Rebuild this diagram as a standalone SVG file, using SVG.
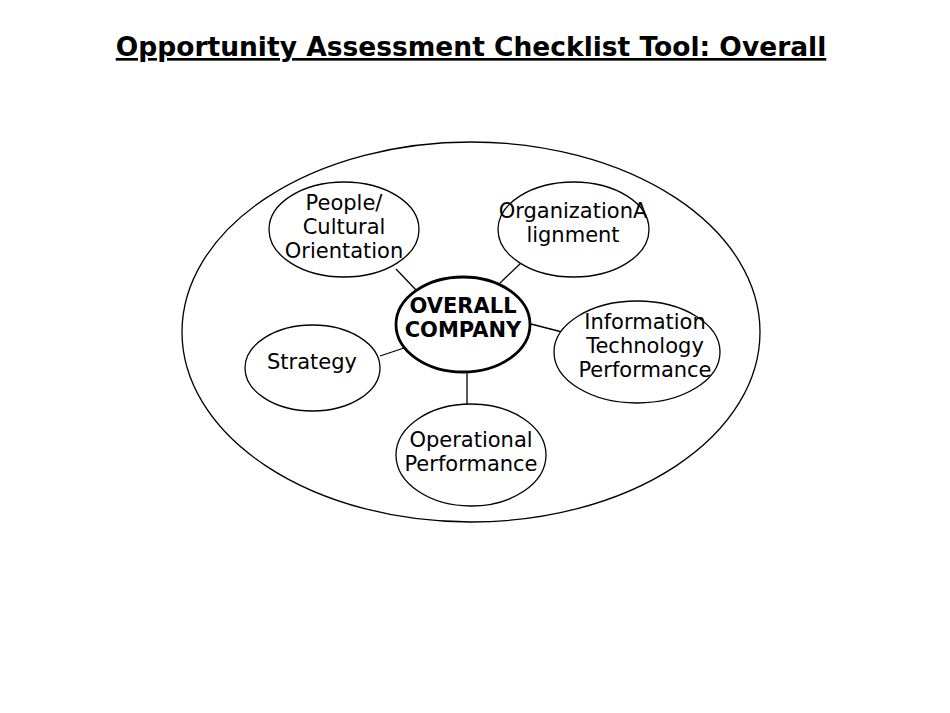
<svg xmlns="http://www.w3.org/2000/svg" width="950" height="713" viewBox="0 0 950 713">
<style>
.n{fill:#fff;stroke:#000;stroke-width:1.3}
.t{font-family:"DejaVu Sans",sans-serif;font-size:21px;text-anchor:middle;fill:#000}
.b{font-weight:bold}
.c line{stroke:#000;stroke-width:1.3}
</style>
<rect width="950" height="713" fill="#fff"/>
<text x="471" y="56" font-family="DejaVu Sans,sans-serif" font-size="26.5" font-weight="bold" text-anchor="middle" text-decoration="underline">Opportunity Assessment Checklist Tool: Overall</text>
<g id="outer"><ellipse class="n" cx="471" cy="332" rx="289" ry="190"/></g>
<g class="c" id="connectors">
<line x1="396" y1="269" x2="417" y2="291"/>
<line x1="522" y1="262" x2="500" y2="283"/>
<line x1="531" y1="324" x2="562" y2="332"/>
<line x1="380" y1="356" x2="404" y2="348"/>
<line x1="467" y1="373" x2="467" y2="404"/>
</g>
<g id="people"><ellipse class="n" cx="344" cy="229.5" rx="75" ry="47.5"/>
<text class="t" x="344" y="210">People/</text><text class="t" x="344" y="234">Cultural</text><text class="t" x="344" y="258">Orientation</text></g>
<g id="org"><ellipse class="n" cx="573.5" cy="229.5" rx="75.5" ry="47.5"/>
<text class="t" x="573" y="218">OrganizationA</text><text class="t" x="573" y="242">lignment</text></g>
<g id="center"><ellipse class="n" cx="463" cy="324.5" rx="67" ry="47.5" style="stroke-width:2.8"/>
<text class="t b" x="463" y="313">OVERALL</text><text class="t b" x="463" y="337">COMPANY</text></g>
<g id="info"><ellipse class="n" cx="637" cy="352" rx="83" ry="51"/>
<text class="t" x="645" y="329">Information</text><text class="t" x="645" y="353">Technology</text><text class="t" x="645" y="377">Performance</text></g>
<g id="strategy"><ellipse class="n" cx="312.5" cy="368" rx="67.5" ry="43"/>
<text class="t" x="312" y="369">Strategy</text></g>
<g id="operational"><ellipse class="n" cx="471" cy="455" rx="75" ry="51"/>
<text class="t" x="471" y="447">Operational</text><text class="t" x="471" y="471">Performance</text></g>
</svg>
